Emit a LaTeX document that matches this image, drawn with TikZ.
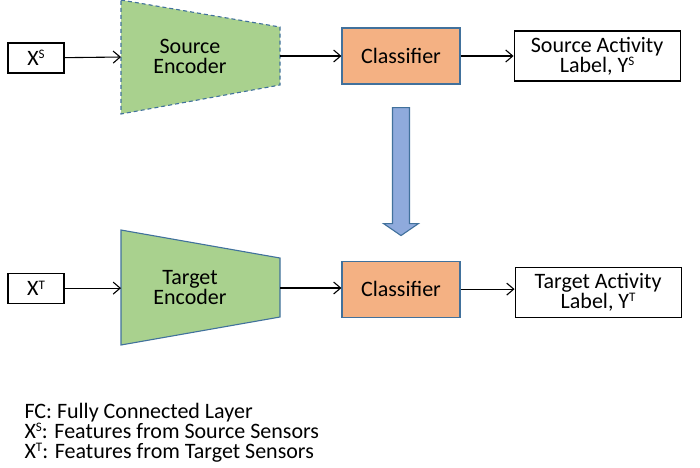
\documentclass[tikz,border=0pt]{standalone}
\usepackage{fontspec}
\setmainfont{Carlito}
\usetikzlibrary{positioning,arrows.meta}
\definecolor{encgreen}{HTML}{A9D18E}
\definecolor{clsorange}{HTML}{F4B183}
\definecolor{arrblue}{HTML}{8FAADC}
\definecolor{edgeblue}{HTML}{41719C}
\newcommand{\supsmall}[1]{\raisebox{0.62ex}{\fontsize{13}{13}\selectfont #1}}
\begin{document}
\begin{tikzpicture}[x=1pt, y=-1pt, line width=1.1pt,
  every node/.style={font=\fontsize{22}{20}\selectfont, align=center, inner sep=0pt},
  box/.style={draw, minimum height=30pt},
  classifier/.style={draw=edgeblue, fill=clsorange, minimum width=118pt, minimum height=56pt},
  labelbox/.style={draw, minimum width=166pt, minimum height=50pt},
  encoder/.style={draw=edgeblue, fill=encgreen},
  >={Straight Barb[length=7pt,width=12pt]}]
\useasboundingbox (0,0) rectangle (700,467);
% source branch
\draw[encoder, dash pattern=on 4pt off 3pt] (121,0) -- (280,27) -- (280,85) -- (121,114) -- cycle;
\coordinate (senc-in) at (121,57);
\coordinate (senc-out) at (280,56);
\node (senc) at (190,56) {Source\\Encoder};
\node (xs) [box, minimum width=56pt] at (36,58) {X\supsmall{S}};
\node (scls) [classifier] at (401,56) {Classifier};
\node (slab) [labelbox, right=53pt of scls] {Source Activity\\Label, Y\supsmall{S}};
\draw[->] (xs) -- (senc-in);
\draw[->] (senc-out) -- (senc-out -| scls.west);
\draw[->] (scls) -- (scls -| slab.west);
% target branch
\draw[encoder] (121,230) -- (280,258) -- (280,317) -- (121,345) -- cycle;
\coordinate (tenc-in) at (121,288);
\coordinate (tenc-out) at (280,288);
\node (tenc) at (190,288) {Target\\Encoder};
\node (xt) [box, minimum width=56pt, below=199pt of xs] {X\supsmall{T}};
\node (tcls) [classifier, below=176pt of scls] {Classifier};
\node (tlab) [labelbox, right=54pt of tcls, yshift=-3pt] {Target Activity\\Label, Y\supsmall{T}};
\draw[->] (xt) -- (xt -| tenc-in);
\draw[->] (tenc-out) -- (tenc-out -| tcls.west);
\draw[->] (tcls) -- (tcls -| tlab.west);
% transfer arrow
\draw[draw=edgeblue, fill=arrblue] (scls.south) ++(-8.5,23) -- ++(17,0) -- ++(0,116) -- ++(9,0)
  -- ++(-17.5,12) -- ++(-17.5,-12) -- ++(9,0) -- cycle;
% legend
\node (leg1) [anchor=base west] at (24,418) {FC: Fully Connected Layer};
\node (leg2) [anchor=base west] at (24,438) {X\supsmall{S}: Features from Source Sensors};
\node (leg3) [anchor=base west] at (24,458) {X\supsmall{T}: Features from Target Sensors};
\end{tikzpicture}
\end{document}
